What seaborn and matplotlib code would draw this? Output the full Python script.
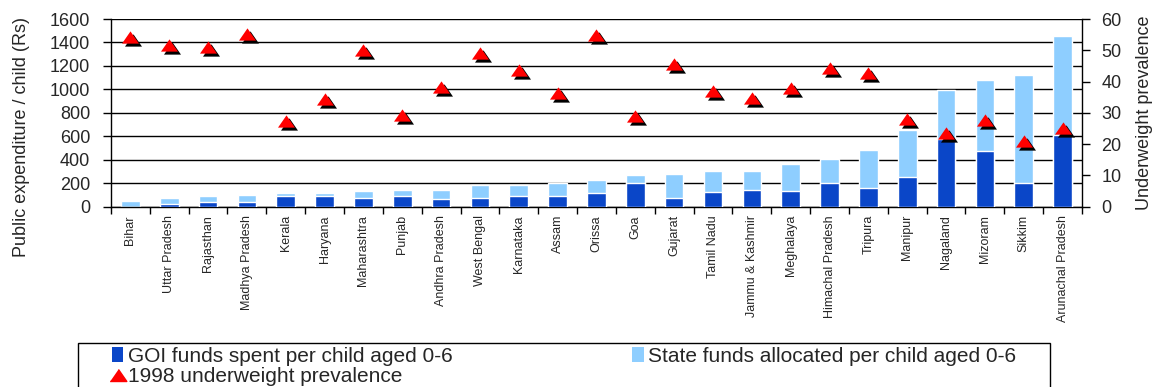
import numpy as np
import pandas as pd
import matplotlib
matplotlib.use("Agg")
import matplotlib.pyplot as plt
import matplotlib.transforms as mtransforms
from matplotlib.patches import Patch, Rectangle
from matplotlib.lines import Line2D
import seaborn as sns

# ---- data -------------------------------------------------------------
states = ["Bihar", "Uttar Pradesh", "Rajasthan", "Madhya Pradesh", "Kerala",
          "Haryana", "Maharashtra", "Punjab", "Andhra Pradesh", "West Bengal",
          "Karnataka", "Assam", "Orissa", "Goa", "Gujarat", "Tamil Nadu",
          "Jammu & Kashmir", "Meghalaya", "Himachal Pradesh", "Tripura",
          "Manipur", "Nagaland", "Mizoram", "Sikkim", "Arunachal Pradesh"]

# GOI funds spent per child aged 0-6 (Rs)
goi_funds = [0, 22, 37, 37, 90, 90, 74, 88, 63, 74, 88, 88, 117, 200, 74,
             128, 142, 131, 202, 157, 253, 575, 475, 202, 612]
# State funds allocated per child aged 0-6 (Rs)
state_funds = [48, 52, 51, 65, 27, 25, 57, 54, 79, 108, 94, 114, 108, 68, 208,
               179, 165, 233, 202, 330, 402, 416, 607, 920, 846]
# 1998 underweight prevalence (%)
underweight = [54.3, 51.6, 51.0, 55.1, 27.5, 34.5, 50.0, 29.3, 38.4, 49.1,
               43.7, 36.5, 54.9, 28.9, 45.7, 37.0, 34.9, 38.1, 44.2, 42.8,
               27.9, 23.6, 27.6, 20.9, 25.0]

left_ticks = list(range(0, 1601, 200))
right_ticks = list(range(0, 61, 10))

df = pd.DataFrame({"state": states, "goi": goi_funds, "state_funds": state_funds,
                   "uw": underweight})
df["total"] = df["goi"] + df["state_funds"]
df["pos"] = np.arange(len(df))

# ---- style ------------------------------------------------------------
sns.set_style("white")
plt.rcParams["font.family"] = ["Liberation Sans", "DejaVu Sans"]

DARK = "#0A46C8"
LIGHT = "#8ECEFF"

fig = plt.figure(figsize=(11.57, 3.87), dpi=100)
ax = fig.add_axes([0.0959, 0.4659, 0.8393, 0.4850])

# stacked bars: full height in light blue, GOI share drawn over it in dark blue
sns.barplot(data=df, x="state", y="total", order=states, color=LIGHT,
            saturation=1, width=0.48, ax=ax, zorder=2)
sns.barplot(data=df, x="state", y="goi", order=states, color=DARK,
            saturation=1, width=0.48, ax=ax, zorder=3)

ax.set_ylim(0, 1600)
ax.set_xlim(-0.5, len(states) - 0.5)
ax.set_yticks(left_ticks)
ax.set_yticklabels([str(t) for t in left_ticks], fontsize=13)
ax.set_axisbelow(True)
ax.yaxis.grid(True, color="black", linewidth=1.0)
ax.xaxis.grid(False)

ax.set_xticks(np.arange(len(states)))
ax.set_xticklabels(states, rotation=90, fontsize=9, va="top", ha="center")
ax.set_xticks(np.arange(len(states) + 1) - 0.5, minor=True)
ax.tick_params(axis="x", which="major", length=0, pad=6)
ax.tick_params(axis="x", which="minor", length=5, width=1, color="black",
               direction="out", bottom=True)
ax.tick_params(axis="y", length=6, width=1, color="black", direction="out",
               left=True, pad=9)
ax.set_xlabel("")
ax.set_ylabel("Public expenditure / child (Rs)", fontsize=13)
ax.yaxis.set_label_coords(-0.0834, 0.37)

for side in ["left", "bottom"]:
    ax.spines[side].set_color("black")
    ax.spines[side].set_linewidth(1.0)
ax.spines["top"].set_visible(False)
ax.spines["right"].set_visible(False)

# ---- underweight prevalence on the secondary axis ---------------------
ax2 = ax.twinx()
tri = [(-1, -0.72), (1, -0.72), (0, 0.72)]
shadow = ax2.transData + mtransforms.ScaledTranslation(3 / 100, -3 / 100,
                                                       fig.dpi_scale_trans)
ax2.scatter(df["pos"], df["uw"], marker=tri, s=150, color="black",
            linewidths=0, transform=shadow, zorder=4)
sns.scatterplot(data=df, x="pos", y="uw", marker=tri, s=150, color="#FF0000",
                edgecolor="#FF0000", linewidth=0, ax=ax2, zorder=5, legend=False)

ax2.set_ylim(0, 60)
ax2.set_xlim(-0.5, len(states) - 0.5)
ax2.set_yticks(right_ticks)
ax2.set_yticklabels([str(t) for t in right_ticks], fontsize=13)
ax2.tick_params(axis="y", length=6, width=1, color="black", direction="out",
                right=True, pad=8)
ax2.set_xlabel("")
ax2.set_ylabel("Underweight prevalence", fontsize=13)
ax2.yaxis.set_label_coords(1.0555, 0.5)
ax2.grid(False)
for side in ["left", "bottom", "top"]:
    ax2.spines[side].set_visible(False)
ax2.spines["right"].set_color("black")
ax2.spines["right"].set_linewidth(1.0)

# ---- legend -----------------------------------------------------------
W, H = 1157, 387
fig.add_artist(Rectangle((78 / W, -0.1), 972 / W, 1 - 343 / H + 0.1,
                         transform=fig.transFigure, fill=False,
                         edgecolor="black", linewidth=1.0))
handles = [Patch(facecolor=DARK, edgecolor="none"),
           Line2D([], [], marker=tri, color="#FF0000", linestyle="none",
                  markersize=12),
           Patch(facecolor=LIGHT, edgecolor="none")]
labels = ["GOI funds spent per child aged 0-6",
          "1998 underweight prevalence",
          "State funds allocated per child aged 0-6"]
leg = fig.legend(handles, labels, loc="upper left",
                 bbox_to_anchor=(112 / W, 0, 904 / W, 1 - 347 / H),
                 bbox_transform=fig.transFigure, ncol=2, mode="expand",
                 frameon=False, fontsize=15, borderaxespad=0, borderpad=0,
                 handlelength=0.55, handleheight=0.75, handletextpad=0.2,
                 labelspacing=0.06)

fig.savefig("out.png", dpi=100)
